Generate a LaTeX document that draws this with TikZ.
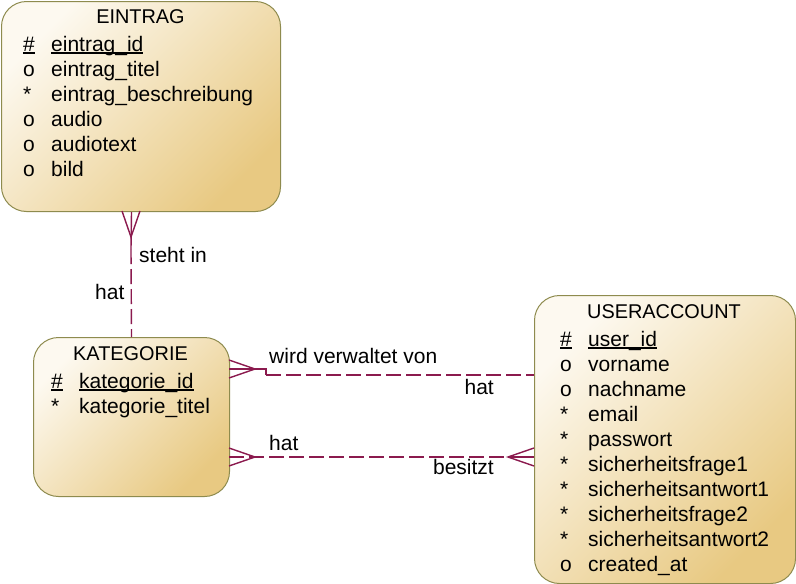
\documentclass[tikz,border=0pt]{standalone}
\usepackage{fontspec}
\setmainfont{Liberation Sans}
\definecolor{boxlight}{HTML}{FDF9F0}
\definecolor{boxdark}{HTML}{E8C982}
\definecolor{boxborder}{HTML}{8E8B4E}
\definecolor{rel}{HTML}{8B1A4E}
\newcommand\keyul[1]{\setbox0\hbox{#1}\rlap{\rule[-2.6pt]{\wd0}{1.4pt}}\box0}
\begin{document}
\begin{tikzpicture}[x=1pt,y=-1pt,
  every node/.style={font=\fontsize{21}{25}\selectfont, inner sep=0pt},
  entity/.style={draw=boxborder, line width=1pt, rounded corners=25pt,
    top color=boxlight, bottom color=boxdark, shading angle=45, anchor=north west},
  attr/.style={anchor=base west},
  title/.style={anchor=base, font=\fontsize{19.9}{24}\selectfont},
  relline/.style={draw=rel, line width=1.4pt},
  reldash/.style={relline, dash pattern=on 15pt off 5pt},
  lbl/.style={anchor=base west}]
\useasboundingbox (0,0) rectangle (796,584);

% entities
\node[entity, minimum width=279pt, minimum height=210pt] (eintrag) at (1,1) {};
\node[entity, minimum width=196pt, minimum height=159pt] (kategorie) at (33,337) {};
\node[entity, minimum width=261pt, minimum height=288pt] (useraccount) at (534,295) {};

% EINTRAG
\node[title] (eintragT) at (140.5,23) {EINTRAG};
\node[attr] (es0) at (23,51) {\keyul{\#}};
\node[attr] (et0) at (51,51) {\keyul{eintrag\_id}};
\foreach [count=\i] \s/\t in {o/eintrag\_titel, */eintrag\_beschreibung, o/audio, o/audiotext, o/bild}{
  \node[attr] (es\i) at (23,{51+25*\i}) {\s};
  \node[attr] (et\i) at (51,{51+25*\i}) {\t};
}

% KATEGORIE
\node[title] (kategorieT) at (130.5,360) {KATEGORIE};
\node[attr] (ks0) at (51,388) {\keyul{\#}};
\node[attr] (kt0) at (79,388) {\keyul{kategorie\_id}};
\node[attr] (ks1) at (51,413) {*};
\node[attr] (kt1) at (79,413) {kategorie\_titel};

% USERACCOUNT
\node[title] (useraccountT) at (664,318) {USERACCOUNT};
\node[attr] (us0) at (560,346) {\keyul{\#}};
\node[attr] (ut0) at (588,346) {\keyul{user\_id}};
\foreach [count=\i] \s/\t in {o/vorname, o/nachname, */email, */passwort,
  */sicherheitsfrage1, */sicherheitsantwort1, */sicherheitsfrage2,
  */sicherheitsantwort2, o/created\_at}{
  \node[attr] (us\i) at (560,{346+25*\i}) {\s};
  \node[attr] (ut\i) at (588,{346+25*\i}) {\t};
}

% relation EINTRAG - KATEGORIE
\coordinate (r1a) at (eintrag.south -| kategorie.north);
\coordinate (r1tip) at (131,237);
\coordinate (r1mid) at (131,249);
\draw[relline] (122,211) -- (r1tip) -- (140,211);
\draw[relline] (r1a) -- (r1mid);
\draw[reldash] (r1mid) -- (kategorie.north);

% relation KATEGORIE - USERACCOUNT (wird verwaltet von / hat)
\coordinate (r2a) at (229,369);
\coordinate (r2tip) at (255,369);
\coordinate (r2b) at (266,369);
\coordinate (r2c) at (266,375);
\coordinate (r2d) at (useraccount.west |- r2c);
\draw[relline] (229,360) -- (r2tip) -- (229,378);
\draw[relline] (r2a) -- (r2b) -- (r2c);
\draw[reldash] (r2c) -- (r2d);

% relation KATEGORIE - USERACCOUNT (hat / besitzt)
\coordinate (r3a) at (229,457);
\coordinate (r3tipL) at (255,457);
\coordinate (r3tipR) at (508,457);
\coordinate (r3b) at (useraccount.west |- r3a);
\draw[relline] (229,448) -- (r3tipL) -- (229,466);
\draw[relline] (534,448) -- (r3tipR) -- (534,466);
\draw[reldash] (r3a) -- (r3tipR);
\draw[relline] (r3tipR) -- (r3b);

% labels
\node[lbl] (l1) at (139,262) {steht in};
\node[lbl] (l2) at (95,299) {hat};
\node[lbl] (l3) at (269,363) {wird verwaltet von};
\node[anchor=base east] (l4) at (494,394) {hat};
\node[lbl] (l5) at (269,450) {hat};
\node[anchor=base east] (l6) at (494,474) {besitzt};
\end{tikzpicture}
\end{document}
